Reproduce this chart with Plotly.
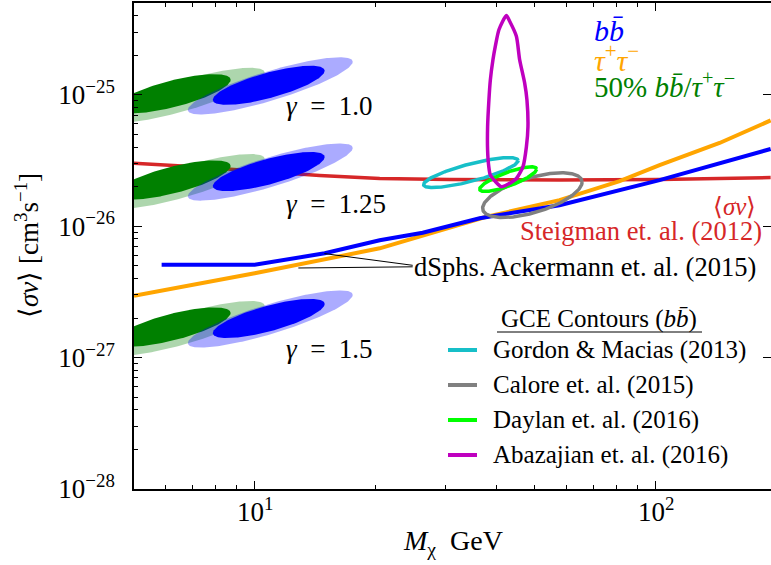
import numpy as np
import plotly.graph_objects as go

FONT = "Liberation Serif"

# Fermi-LAT dwarf spheroidal upper limits (Ackermann et al. 2015)
dsph_bb_mass = [5.86, 10.0, 14.95, 20.5, 26.24, 36.4, 57.6, 102.3, 193.6]
dsph_bb_sigv = [5.10e-27, 5.10e-27, 6.22e-27, 7.82e-27, 8.92e-27, 1.151e-26, 1.446e-26, 2.245e-26, 3.87e-26]
dsph_tau_mass = [5.0, 10.0, 20.5, 37.46, 57.6, 81.33, 102.3, 144.4, 193.6]
dsph_tau_sigv = [2.95e-27, 4.38e-27, 6.79e-27, 1.171e-26, 1.579e-26, 2.206e-26, 2.92e-26, 4.30e-26, 6.39e-26]

# Thermal relic cross section (Steigman et al. 2012)
relic_mass = [5.0, 6.14, 7.29, 10.0, 14.53, 20.5, 30.64, 57.6, 102.3, 193.6]
relic_sigv = [3.01e-26, 2.92e-26, 2.82e-26, 2.63e-26, 2.43e-26, 2.305e-26, 2.265e-26, 2.245e-26, 2.265e-26, 2.345e-26]

# Fit regions for gamma = 1.0: major-axis end points (mass, sigv) and half-height in decades
fit_names = ["mix_2sig", "mix_1sig", "bb_2sig", "bb_1sig"]
fit_p1_mass = [4.23, 4.48, 6.81, 7.86]
fit_p1_sigv = [6.67e-26, 7.96e-26, 7.68e-26, 9.16e-26]
fit_p2_mass = [10.59, 8.71, 17.56, 14.95]
fit_p2_sigv = [1.473e-25, 1.303e-25, 1.787e-25, 1.524e-25]
fit_halfh = [0.12, 0.104, 0.117, 0.1]
fit_colors = ["rgba(0,128,0,0.32)", "#008000", "rgba(0,0,255,0.33)", "#0000ff"]

# Inner slope values and the rescaling of <sigma v> relative to gamma = 1.0
gamma_values = ["1.0", "1.25", "1.5"]
gamma_sigv_scale = [1.0, 0.2206, 0.0168]

# GCE contours (b bbar): ellipse end points and half-height in decades
gce_labels = ["Gordon &amp; Macias (2013)", "Calore et. al. (2015)", "Daylan et. al. (2016)"]
gce_colors = ["#17bfc8", "#808080", "#00ff00"]
gce_p1_mass = [26.38, 37.03, 36.4]
gce_p1_sigv = [2.075e-26, 1.37e-26, 1.916e-26]
gce_p2_mass = [45.41, 65.56, 50.5]
gce_p2_sigv = [3.16e-26, 2.17e-26, 2.72e-26]
gce_halfh = [0.068, 0.138, 0.055]

# Abazajian et al. (2016) contour outline
abaz_mass = [42.44, 43.25, 44.95, 45.80, 47.14, 47.76, 48.04, 47.61, 46.69, 44.95, 42.44, 41.23,
             38.71, 38.32, 38.10, 38.10, 38.39, 38.71, 39.29, 39.90, 40.66, 42.44]
abaz_sigv = [4.01e-25, 3.63e-25, 2.79e-25, 1.85e-25, 1.228e-25, 9.16e-26, 5.73e-26, 4.03e-26,
             2.84e-26, 2.31e-26, 2.06e-26, 1.995e-26, 2.45e-26, 2.92e-26, 3.80e-26, 5.70e-26,
             9.16e-26, 1.30e-25, 1.85e-25, 2.41e-25, 3.13e-25, 4.01e-25]
abaz_label = "Abazajian et. al. (2016)"
abaz_color = "#bf00bf"

# Leader lines from the dSph label to both limit curves
leader_bb_mass = [24.78, 14.92]
leader_bb_sigv = [5.04e-27, 6.19e-27]
leader_tau_mass = [24.78, 12.85]
leader_tau_sigv = [4.91e-27, 4.81e-27]

x_tickvals = [10, 100]
x_ticktext = ["10<sup>1</sup>", "10<sup>2</sup>"]
y_tickvals = [1e-28, 1e-27, 1e-26, 1e-25]
y_ticktext = ["10<sup>\u221228</sup>", "10<sup>\u221227</sup>", "10<sup>\u221226</sup>", "10<sup>\u221225</sup>"]

X_MIN, X_MAX = 5.0, 194.0
Y_MIN, Y_MAX = 1e-28, 5e-25


def ellipse(m1, s1, m2, s2, halfh, n=240):
    """Sheared ellipse in log-log space through two tip points."""
    t = np.linspace(0, 2 * np.pi, n)
    lx1, ly1, lx2, ly2 = np.log10(m1), np.log10(s1), np.log10(m2), np.log10(s2)
    cx, cy = (lx1 + lx2) / 2, (ly1 + ly2) / 2
    mx, my = (lx2 - lx1) / 2, (ly2 - ly1) / 2
    lx = cx + mx * np.cos(t)
    ly = cy + my * np.cos(t) + halfh * np.sin(t)
    return 10 ** lx, 10 ** ly


fig = go.Figure()

# relic line sits beneath the fit regions
fig.add_trace(go.Scatter(x=relic_mass, y=relic_sigv, mode="lines", line=dict(color="#d62728", width=3.5),
                         hoverinfo="skip", showlegend=False))

for scale in gamma_sigv_scale:
    for i in range(len(fit_names)):
        ex, ey = ellipse(fit_p1_mass[i], fit_p1_sigv[i] * scale, fit_p2_mass[i], fit_p2_sigv[i] * scale, fit_halfh[i])
        fig.add_trace(go.Scatter(x=ex, y=ey, mode="lines", fill="toself", fillcolor=fit_colors[i],
                                 line=dict(width=0), hoverinfo="skip", showlegend=False))

fig.add_trace(go.Scatter(x=dsph_tau_mass, y=dsph_tau_sigv, mode="lines", line=dict(color="#ffa500", width=4),
                         hoverinfo="skip", showlegend=False))
fig.add_trace(go.Scatter(x=dsph_bb_mass, y=dsph_bb_sigv, mode="lines", line=dict(color="#0000ff", width=4),
                         hoverinfo="skip", showlegend=False))

for i in range(len(gce_labels)):
    ex, ey = ellipse(gce_p1_mass[i], gce_p1_sigv[i], gce_p2_mass[i], gce_p2_sigv[i], gce_halfh[i])
    fig.add_trace(go.Scatter(x=ex, y=ey, mode="lines", line=dict(color=gce_colors[i], width=3.5),
                             hoverinfo="skip", showlegend=False))
fig.add_trace(go.Scatter(x=abaz_mass, y=abaz_sigv, mode="lines", line=dict(color=abaz_color, width=3.5, shape="spline", smoothing=0.6),
                         hoverinfo="skip", showlegend=False))

for lm, ls in ((leader_bb_mass, leader_bb_sigv), (leader_tau_mass, leader_tau_sigv)):
    fig.add_trace(go.Scatter(x=lm, y=ls, mode="lines", line=dict(color="black", width=1),
                             hoverinfo="skip", showlegend=False))

# carrier for right-hand tick marks
fig.add_trace(go.Scatter(x=[], y=[], yaxis="y2", hoverinfo="skip", showlegend=False))

# plot area in pixels: x 134..771, y 3..489
L, R, T, B = 134, 771, 3, 489


def px(x):
    return (x - L) / (R - L)


def py(y):
    return (B - y) / (B - T)


anns = []


def text(x, y, s, size, color="black", xanchor="left", yanchor="middle", angle=0):
    anns.append(dict(x=px(x), y=py(y), xref="paper", yref="paper", text=s, showarrow=False,
                     xanchor=xanchor, yanchor=yanchor, textangle=angle,
                     font=dict(family=FONT, size=size, color=color)))


# x tick labels, placed at their tick positions on the log axis
for v, lab in zip(x_tickvals, x_ticktext):
    anns.append(dict(x=np.log10(v), xref="x", y=py(510), yref="paper", text=lab, showarrow=False,
                     xanchor="center", yanchor="middle", font=dict(family=FONT, size=27, color="black")))

gy = [106, 204, 349]
for g, yy in zip(gamma_values, gy):
    text(284, yy, "<i>\u03b3</i>\u2002=\u2002" + g, 27)

text(592, 31, "<i>bb\u0304</i>", 30, "#0000ff")
text(592, 58, "<i>\u03c4</i><sup>+</sup><i>\u03c4</i><sup>\u2212</sup>", 30, "#ffa500")
text(592, 85, "50% <i>bb\u0304</i>/<i>\u03c4</i><sup>+</sup><i>\u03c4</i><sup>\u2212</sup>", 29, "#008000")

text(758, 206, "\u27e8<i>\u03c3v</i>\u27e9", 25, "#d62728", xanchor="right")
text(764, 231, "Steigman et. al. (2012)", 26.5, "#d62728", xanchor="right")
text(412, 267, "dSphs. Ackermann et. al. (2015)", 26.5)

# contour key
text(599, 319, "GCE Contours (<i>bb\u0304</i>)", 25, xanchor="center")
legend_y = [350, 385, 420, 455]
legend_colors = gce_colors + [abaz_color]
legend_labels = gce_labels + [abaz_label]
shapes = [dict(type="line", xref="paper", yref="paper", x0=px(497), x1=px(702), y0=py(332), y1=py(332),
               line=dict(color="black", width=1))]
for yy, c, lab in zip(legend_y, legend_colors, legend_labels):
    shapes.append(dict(type="line", xref="paper", yref="paper", x0=px(448), x1=px(477), y0=py(yy), y1=py(yy),
                       line=dict(color=c, width=4)))
    text(491, yy, lab, 25)

# axis titles
text(453, 542, "<i>M</i><sub>\u03c7</sub>\u2002GeV", 28, xanchor="center")
text(27, 246, "\u27e8<i>\u03c3v</i>\u27e9 [cm<sup>3</sup>s<sup>\u22121</sup>]", 27, xanchor="center", angle=-90)

minor_x = [6, 7, 8, 9, 20, 30, 40, 50, 60, 70, 80, 90]
minor_y = [m * 10.0 ** e for e in (-28, -27, -26, -25) for m in range(2, 10) if m * 10.0 ** e <= Y_MAX]

fig.update_layout(
    width=771, height=565,
    margin=dict(l=L, r=0, t=T, b=565 - B),
    paper_bgcolor="white", plot_bgcolor="white",
    font=dict(family=FONT, size=26, color="black"),
    showlegend=False,
    annotations=anns,
    shapes=shapes,
    xaxis=dict(type="log", range=[np.log10(X_MIN), np.log10(X_MAX)],
               showline=True, linecolor="black", linewidth=1.5, mirror="ticks",
               ticks="inside", ticklen=8, tickwidth=1.3, tickcolor="black",
               tickvals=x_tickvals, showticklabels=False,
               minor=dict(ticks="inside", ticklen=4.5, tickwidth=1.0, tickcolor="black", tickvals=minor_x),
               showgrid=False, zeroline=False),
    yaxis=dict(type="log", range=[np.log10(Y_MIN), np.log10(Y_MAX)],
               showline=True, linecolor="black", linewidth=1.5, mirror=False,
               ticks="inside", ticklen=8, tickwidth=1.3, tickcolor="black",
               tickvals=y_tickvals, ticktext=y_ticktext, ticklabelstandoff=12,
               minor=dict(ticks="inside", ticklen=4.5, tickwidth=1.0, tickcolor="black", tickvals=minor_y),
               showgrid=False, zeroline=False, tickfont=dict(family=FONT, size=27)),
    yaxis2=dict(type="log", range=[np.log10(Y_MIN), np.log10(Y_MAX)], overlaying="y", side="right",
                showline=False, ticks="inside", ticklen=8, tickwidth=1.3, tickcolor="black",
                tickvals=y_tickvals, showticklabels=False, showgrid=False, zeroline=False),
)

fig.write_html("out.html")
